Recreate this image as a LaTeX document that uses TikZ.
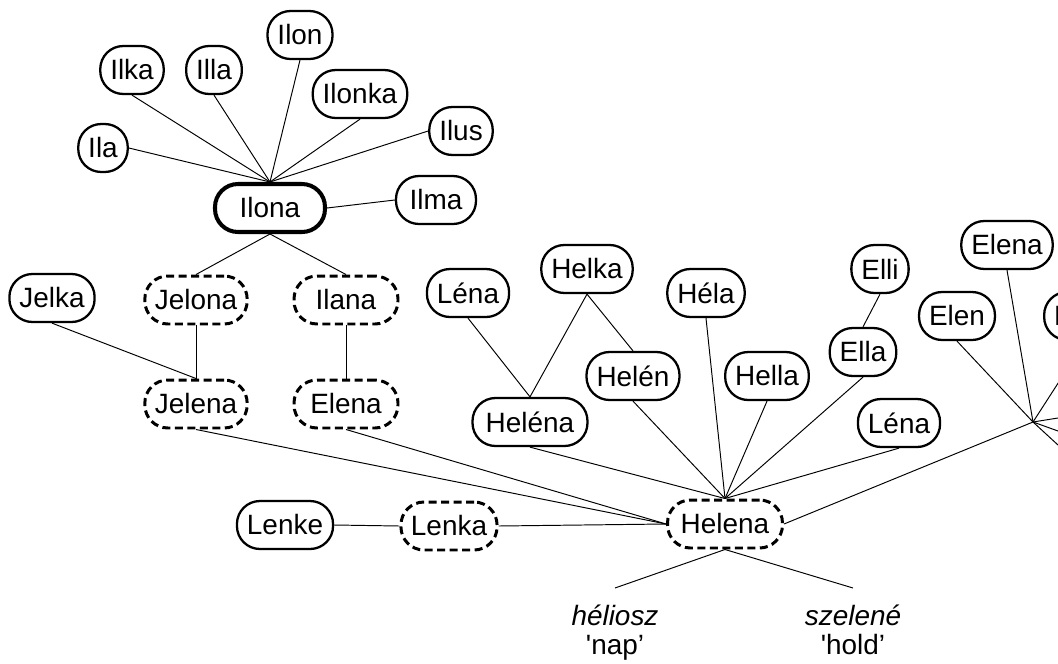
\documentclass[tikz,border=0pt]{standalone}
\usepackage{fontspec}
\setmainfont{Liberation Sans}
\newcommand\namefont{\fontsize{15.9pt}{16.2pt}\selectfont}

\begin{document}
\begin{tikzpicture}[
  x=0.02cm, y=-0.02cm,
  namebox/.style={rectangle,draw,rounded corners=0.46cm,line width=1.3pt,
    minimum height=0.96cm,inner xsep=0.2cm,inner ysep=0pt,font=\namefont},
  formbox/.style={namebox,line width=1.7pt,dash pattern=on 0.16cm off 0.09cm},
  rootbox/.style={namebox,line width=2.3pt},
  gloss/.style={align=center,inner xsep=0pt,inner ysep=0.34cm,anchor=north,font=\namefont},
  link/.style={draw,line width=0.55pt}
]
\useasboundingbox (0,0) rectangle (1058,663);
\clip (0,0) rectangle (1058,663);

% Ilona et ses variantes
\node[namebox] (Ilon) at (300,35) {Ilon};
\node[namebox] (Ilka) at (132,70) {Ilka};
\node[namebox] (Illa) at (214,70) {Illa};
\node[namebox] (Ilonka) at (360,94) {Ilonka};
\node[namebox] (Ilus) at (461,131) {Ilus};
\node[namebox] (Ila) at (103,148) {Ila};
\node[rootbox,minimum width=2.2cm] (Ilona) at (270,208) {Ilona};
\node[namebox,minimum width=1.6cm] (Ilma) at (436,200) {Ilma};

\node[namebox] (Jelka) at (52,298) {Jelka};
\node[formbox] (Jelona) at (196,300) {Jelona};
\node[formbox,minimum width=2.08cm] (Ilana) at (346,300) {Ilana};
\node[formbox] (Jelena) at (196,404) {Jelena};
\node[formbox,minimum width=2.08cm] (Elena1) at (346,404) {Elena};

\node[namebox] (Lenke) at (285,525) {Lenke};
\node[formbox] (Lenka) at (449,526) {Lenka};
\node[formbox,minimum width=2.3cm] (Helena) at (725,524) {Helena};

% Helena et ses variantes
\node[namebox] (Lena1) at (468,293) {Léna};
\node[namebox] (Helka) at (587,269) {Helka};
\node[namebox] (Hela) at (706,293) {Héla};
\node[namebox] (Helen) at (633,376) {Helén};
\node[namebox,minimum width=2.3cm] (Helena2) at (530,422) {Heléna};
\node[namebox] (Hella) at (767,376) {Hella};
\node[namebox] (Elli) at (880,269) {Elli};
\node[namebox] (Ella) at (863,352) {Ella};
\node[namebox] (Lena2) at (899,423) {Léna};

% groupe de droite
\node[namebox] (Elena2) at (1007,245) {Elena};
\node[namebox] (Elen) at (957,316) {Elen};
\node[namebox,anchor=west] (Elina) at (1043,316) {Elina};
\coordinate (hub) at (1033,422);
\coordinate (out1) at (1083,414);
\coordinate (out2) at (1083,440);
\coordinate (out3) at (1083,468);

\node[gloss] (helio) at (615,588) {\textit{héliosz}\\\textquotesingle nap’};
\node[gloss] (selene) at (853,588) {\textit{szelené}\\\textquotesingle hold’};

% liens
\draw[link] (Ila.east) -- (Ilona.north);
\draw[link] (Ilus.west) -- (Ilona.north);
\foreach \n in {Ilka,Illa,Ilon,Ilonka}
  \draw[link] (\n.south) -- (Ilona.north);
\draw[link] (Ilma.west) -- (Ilona.east);
\draw[link] (Ilona.south) -- (Jelona.north);
\draw[link] (Ilona.south) -- (Ilana.north);
\draw[link] (Jelona.south) -- (Jelena.north);
\draw[link] (Jelka.south) -- (Jelena.north);
\draw[link] (Ilana.south) -- (Elena1.north);
\draw[link] (Jelena.south) -- (Helena.west);
\draw[link] (Elena1.south) -- (Helena.west);
\draw[link] (Lenke.east) -- (Lenka.west);
\draw[link] (Lenka.east) -- (Helena.west);

\draw[link] (Lena1.south) -- (Helena2.north);
\draw[link] (Helka.south) -- (Helena2.north);
\draw[link] (Helka.south) -- (Helen.north);
\draw[link] (Elli.south) -- (Ella.north);
\foreach \n in {Helena2,Helen,Hela,Hella,Ella,Lena2}
  \draw[link] (\n.south) -- (Helena.north);

\draw[link] (Helena.east) -- (hub);
\foreach \n in {Elen,Elena2,Elina}
  \draw[link] (hub) -- (\n.south);
\foreach \n in {out1,out2,out3}
  \draw[link] (hub) -- (\n);

\draw[link] (Helena.south) -- (helio.north);
\draw[link] (Helena.south) -- (selene.north);

\end{tikzpicture}
\end{document}
